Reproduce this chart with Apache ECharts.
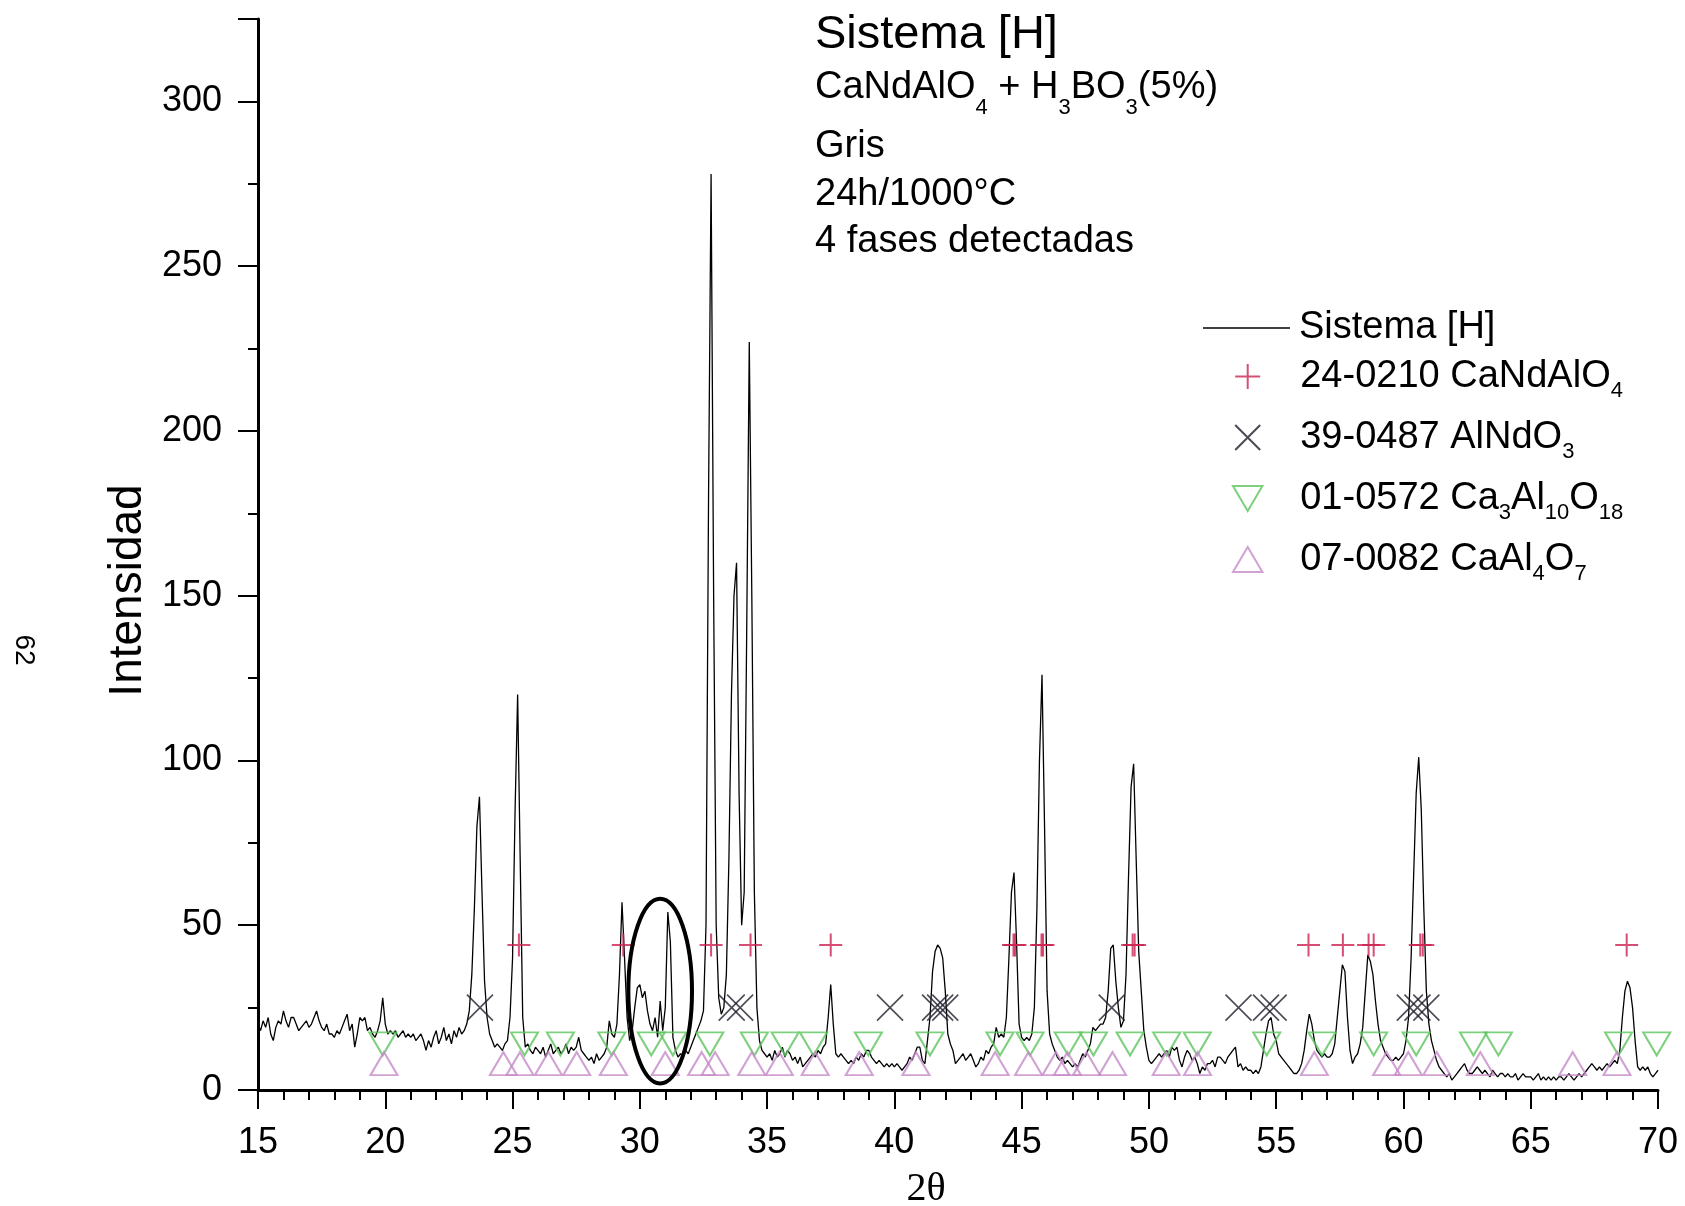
<!DOCTYPE html>
<html><head><meta charset="utf-8">
<script src="https://cdn.jsdelivr.net/npm/echarts@6/dist/echarts.min.js"></script>
<style>html,body{margin:0;padding:0;background:#fff}#c{width:1685px;height:1206px}</style>
</head><body><div id="c"></div>
<script>
// 2θ sampling of the diffractogram
const START_2THETA = 15, STEP_2THETA = 0.1;
const intensity = [
 20,18,21,19,22,17,15,19,21,20,   // 15
 24,21,19,22,22,20,18,19,20,21,   // 16
 19,20,22,24,21,19,18,20,17,17,   // 17
 16,18,17,19,21,23,18,20,13,17,   // 18
 22,21,22,18,19,17,16,18,21,28,   // 19
 20,17,18,17,18,16,17,18,16,17,   // 20
 16,17,15,16,17,15,12,15,13,16,   // 21
 18,14,16,19,15,17,14,18,16,19,   // 22
 17,18,20,24,35,55,80,89,60,33,   // 23
 22,17,15,13,14,13,12,14,15,22,   // 24
 40,85,120,70,22,13,14,12,11,13,  // 25
 12,11,13,10,12,14,11,12,13,11,   // 26
 12,14,11,13,12,13,16,12,11,10,   // 27
 9,10,8,11,9,10,11,13,21,17,      // 28
 16,20,35,57,40,22,15,18,25,31,   // 29
 32,28,30,24,20,18,22,16,27,18,   // 30
 25,54,45,16,12,10,11,10,12,11,   // 31
 13,15,17,19,21,24,50,180,278,150,// 32
 50,28,23,25,35,70,120,150,160,90,// 33
 50,60,140,227,150,60,25,15,12,11,// 34
 10,11,9,12,10,11,13,10,12,11,    // 35
 9,10,8,10,7,8,9,10,11,10,        // 36
 12,11,13,14,22,32,20,11,10,11,   // 37
 10,9,8,9,8,10,9,11,10,12,        // 38
 12,10,9,8,9,8,7,8,7,8,           // 39
 7,8,7,6,7,8,10,9,11,13,          // 40
 13,9,8,15,22,36,42,44,43,40,     // 41
 30,17,14,12,8,9,10,11,9,10,      // 42
 11,9,7,8,10,9,12,11,13,14,       // 43
 19,16,17,16,22,40,60,66,45,20,   // 44
 16,15,16,15,17,25,55,100,126,80, // 45
 30,17,14,12,10,9,10,8,9,8,       // 46
 7,8,7,9,11,10,12,14,19,18,       // 47
 19,20,20,22,30,43,44,33,25,19,   // 48
 21,35,65,92,99,70,42,30,18,13,   // 49
 9,8,9,10,11,10,11,12,10,13,      // 50
 12,13,9,7,10,12,11,9,10,8,       // 51
 5,7,6,8,8,9,7,10,10,9,           // 52
 8,10,11,12,13,7,8,6,7,6,         // 53
 6,5,6,5,7,12,17,21,22,17,        // 54
 15,11,10,9,8,7,6,5,5,6,          // 55
 8,12,18,23,20,15,12,11,10,11,    // 56
 10,10,11,14,22,30,38,36,22,12,   // 57
 8,10,11,14,19,30,41,39,35,27,    // 58
 20,15,13,11,10,9,9,10,9,10,      // 59
 11,15,22,40,65,90,101,85,55,30,  // 60
 20,15,12,9,7,6,5,4,5,3,          // 61
 4,5,6,7,8,6,5,5,6,7,             // 62
 6,5,6,5,4,6,5,4,5,5,             // 63
 4,5,4,4,5,3,4,5,4,4,             // 64
 4,3,4,5,3,4,3,4,3,4,             // 65
 3,4,4,3,4,5,4,3,4,5,             // 66
 4,5,6,7,8,7,6,7,6,7,             // 67
 8,7,8,9,8,12,22,30,33,31,        // 68
 25,15,7,6,7,6,7,5,4,5,           // 69
 6                                // 70
];

// reference-pattern markers (2θ positions), each drawn at a fixed intensity row
const plus_CaNdAlO4 = [25.25,29.35,32.8,34.35,37.5,44.68,44.74,45.78,45.84,49.36,49.44,56.27,57.62,58.63,58.83,60.66,60.76,68.77];
const PLUS_ROW = 44;
const x_AlNdO3 = [23.72,33.61,33.94,39.83,41.6,41.8,42.0,48.54,53.52,54.6,54.9,60.25,60.55,60.9];
const X_ROW = 25;
const down_Ca3Al10O18 = [19.9,25.47,26.88,28.9,30.45,31.3,32.75,34.5,35.71,36.82,38.98,41.4,44.15,45.33,46.83,47.82,49.26,50.7,51.9,54.63,56.8,58.83,60.5,62.75,63.73,68.45,69.95];
const DOWN_ROW = 14;
const up_CaAl4O7 = [19.95,24.64,25.29,26.41,27.52,28.96,31.0,32.43,32.96,34.4,35.48,36.89,38.62,40.85,43.96,45.27,46.35,46.8,47.55,48.57,50.68,51.91,56.5,59.34,60.19,61.31,63.02,66.65,68.39];
const UP_ROW = 8;

const seriesNames = ['Sistema [H]','24-0210 CaNdAlO4','39-0487 AlNdO3','01-0572 Ca3Al10O18','07-0082 CaAl4O7'];
const legendRich = {
  'Sistema [H]':'Sistema [H]',
  '24-0210 CaNdAlO4':'24-0210 CaNdAlO{s|4}',
  '39-0487 AlNdO3':'39-0487 AlNdO{s|3}',
  '01-0572 Ca3Al10O18':'01-0572 Ca{s|3}Al{s|10}O{s|18}',
  '07-0082 CaAl4O7':'07-0082 CaAl{s|4}O{s|7}'
};
const xTicks = {min:15, max:70, interval:5};
const yTicks = {min:0, max:325, interval:50};
// annotation ellipse (data units)
const ELLIPSE_C2T = 30.8, ELLIPSE_CI = 30, ELLIPSE_HALF2T = 1.25, ELLIPSE_HALFI = 28;

const FONT = '"Liberation Sans", Arial, Helvetica, sans-serif';
const spectrum = intensity.map((v,i)=>[+(START_2THETA + i*STEP_2THETA).toFixed(1), v]);
const row = (arr, y) => arr.map(x=>[x,y]);

const legendText = {fontFamily:FONT, fontSize:38, lineHeight:51, color:'#000', padding:[0,0,0,4],
  rich:{ s:{fontFamily:FONT, fontSize:22, lineHeight:22, verticalAlign:'bottom', color:'#000'} }};
const legendBase = {show:true, orient:'vertical', padding:0, itemWidth:87, itemHeight:25, align:'left',
  selectedMode:false, symbolKeepAspect:true, formatter:(n)=>legendRich[n]};

const chart = echarts.init(document.getElementById('c'), null, {renderer:'canvas'});
const markerCommon = {type:'scatter', animation:false, emphasis:{disabled:true}, silent:true, clip:false, z:3};
const option = {
  animation:false,
  backgroundColor:'#ffffff',
  grid:{left:258, right:27, top:19, bottom:116, containLabel:false, outerBoundsMode:'none'},
  xAxis:{
    type:'value', min:xTicks.min, max:xTicks.max, interval:xTicks.interval,
    name:'2θ', nameLocation:'middle', nameGap:79,
    nameTextStyle:{fontFamily:'"Liberation Serif", "Times New Roman", serif', fontSize:40, color:'#000', padding:[0,64,0,0]},
    axisLine:{show:true, onZero:false, lineStyle:{color:'#000', width:3}},
    axisTick:{show:true, inside:false, length:19, lineStyle:{color:'#000', width:2}},
    minorTick:{show:true, splitNumber:5, length:10, lineStyle:{color:'#000', width:2}},
    axisLabel:{fontFamily:FONT, fontSize:36, color:'#000', margin:35},
    splitLine:{show:false}
  },
  yAxis:{
    type:'value', min:yTicks.min, max:yTicks.max, interval:yTicks.interval,
    name:'Intensidad', nameLocation:'middle', nameGap:92,
    nameTextStyle:{fontFamily:FONT, fontSize:46, color:'#000', padding:[0,72,0,0]},
    axisLine:{show:true, onZero:false, lineStyle:{color:'#000', width:3}},
    axisTick:{show:true, inside:false, length:20, lineStyle:{color:'#000', width:2}},
    minorTick:{show:true, splitNumber:2, length:10, lineStyle:{color:'#000', width:2}},
    axisLabel:{fontFamily:FONT, fontSize:36, color:'#000', margin:36, showMaxLabel:false},
    splitLine:{show:false}
  },
  legend:[
    Object.assign({}, legendBase, {left:1203, top:309, itemGap:0,
      data:[{name:seriesNames[0], icon:'path://M0,0L100,0L100,1.6L0,1.6Z'}],
      textStyle:Object.assign({}, legendText, {lineHeight:27})}),
    Object.assign({}, legendBase, {left:1232, top:351, itemGap:10,
      data:seriesNames.slice(1), textStyle:legendText})
  ],
  series:[
    {name:seriesNames[0], type:'line', data:spectrum, showSymbol:false, symbol:'none', animation:false,
     lineStyle:{color:'#000', width:1.3}, itemStyle:{color:'#000'}, emphasis:{disabled:true}, z:2},
    Object.assign({}, markerCommon, {name:seriesNames[1], data:row(plus_CaNdAlO4, PLUS_ROW),
      symbol:'path://M5,0L5,10M0,5L10,5', symbolSize:23,
      itemStyle:{color:'transparent', borderColor:'#cc2250', borderWidth:2}}),
    Object.assign({}, markerCommon, {name:seriesNames[2], data:row(x_AlNdO3, X_ROW),
      symbol:'path://M0,0L10,10M10,0L0,10', symbolSize:26,
      itemStyle:{color:'transparent', borderColor:'#1e1e2a', borderWidth:1.6}}),
    Object.assign({}, markerCommon, {name:seriesNames[3], data:row(down_Ca3Al10O18, DOWN_ROW),
      symbol:'path://M0,0L20,0L10,17Z', symbolSize:[27,23],
      itemStyle:{color:'transparent', borderColor:'#5cc45c', borderWidth:2}}),
    Object.assign({}, markerCommon, {name:seriesNames[4], data:row(up_CaAl4O7, UP_ROW),
      symbol:'path://M10,0L20,17L0,17Z', symbolSize:[27,23],
      itemStyle:{color:'transparent', borderColor:'#c58ac8', borderWidth:2}})
  ]
};
chart.setOption(option);

const c = chart.convertToPixel({xAxisIndex:0, yAxisIndex:0}, [ELLIPSE_C2T, ELLIPSE_CI]);
const e = chart.convertToPixel({xAxisIndex:0, yAxisIndex:0}, [ELLIPSE_C2T + ELLIPSE_HALF2T, ELLIPSE_CI + ELLIPSE_HALFI]);
const TX = 815;
chart.setOption({graphic:[
  {type:'ellipse', shape:{cx:c[0], cy:c[1], rx:Math.abs(e[0]-c[0]), ry:Math.abs(c[1]-e[1])},
   style:{fill:'none', stroke:'#000', lineWidth:4}, z:10, silent:true},
  {type:'text', x:TX, y:12, silent:true, style:{text:'Sistema [H]', fontFamily:FONT, fontSize:47, lineHeight:47, fill:'#000'}},
  {type:'text', x:TX, y:56, silent:true, style:{text:'CaNdAlO{s|4} + H{s|3}BO{s|3}(5%)', fontFamily:FONT, fontSize:38, lineHeight:63, fill:'#000',
     rich:{s:{fontFamily:FONT, fontSize:22, lineHeight:22, verticalAlign:'bottom', fill:'#000'}}}},
  {type:'text', x:TX, y:128, silent:true, style:{text:'Gris', fontFamily:FONT, fontSize:38, lineHeight:38, fill:'#000'}},
  {type:'text', x:TX, y:176, silent:true, style:{text:'24h/1000°C', fontFamily:FONT, fontSize:38, lineHeight:38, fill:'#000'}},
  {type:'text', x:TX, y:223, silent:true, style:{text:'4 fases detectadas', fontFamily:FONT, fontSize:38, lineHeight:38, fill:'#000'}},
  {type:'text', x:24, y:650, rotation:-Math.PI/2, silent:true, style:{text:'62', fontFamily:FONT, fontSize:28, fill:'#000', align:'center', verticalAlign:'middle'}}
]});
</script></body></html>
